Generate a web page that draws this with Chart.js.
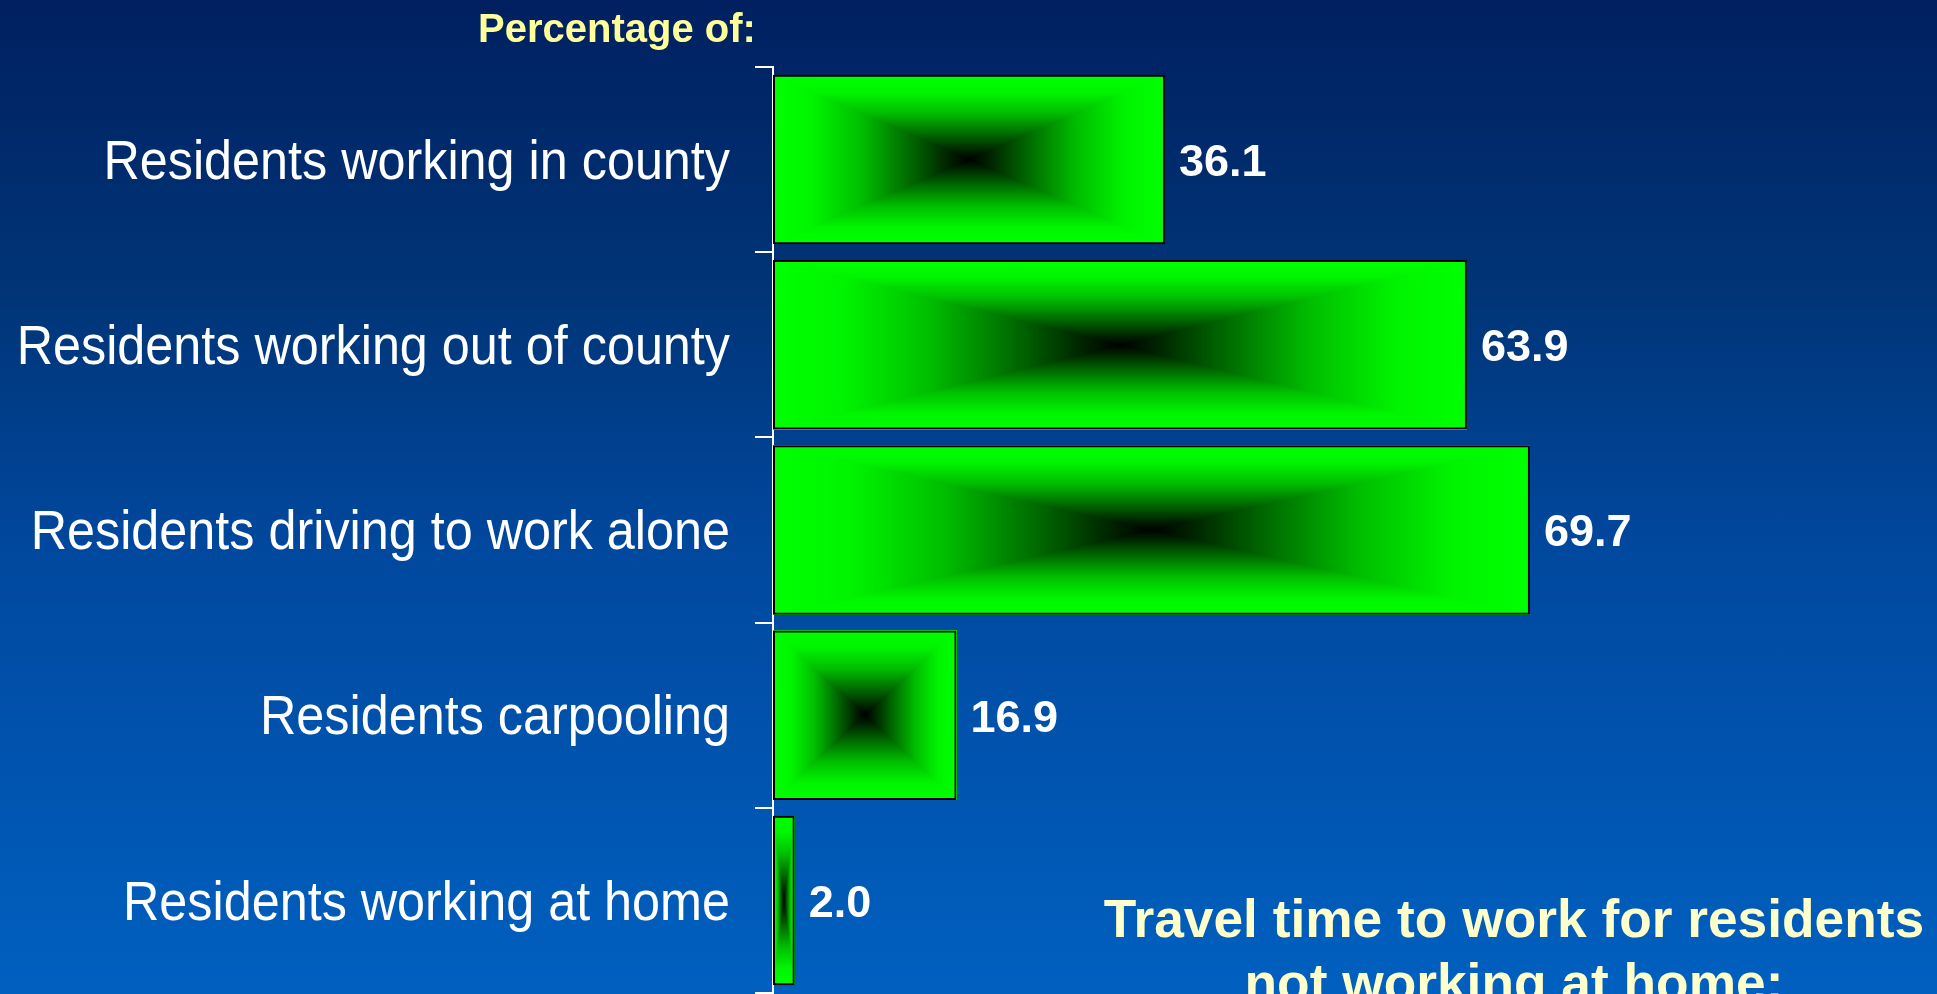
<!DOCTYPE html>
<html>
<head>
<meta charset="utf-8">
<script src="https://cdn.jsdelivr.net/npm/chart.js@4/dist/chart.umd.min.js"></script>
<style>
  html, body { margin: 0; padding: 0; width: 1937px; height: 994px; overflow: hidden; }
  #wrap {
    position: relative; width: 1937px; height: 994px;
    background: linear-gradient(to bottom, #002060 0%, #003578 30%, #00489E 55%, #0060C0 100%);
  }
  #chartBox { position: absolute; left: 0; top: 0; width: 1937px; height: 994px; }
  .pct {
    position: absolute; left: 478px; top: 2px;
    font-family: "Liberation Sans", Arial, sans-serif; font-weight: bold;
    font-size: 40px; color: #FFFF99; white-space: nowrap; line-height: 52px;
  }
  .travel {
    position: absolute; left: 1064px; width: 900px; top: 887px;
    font-family: "Liberation Sans", Arial, sans-serif; font-weight: bold;
    font-size: 53.3px; color: #FFFFCC; text-align: center; line-height: 64px; white-space: nowrap;
  }
</style>
</head>
<body>
<div id="wrap">
  <div id="chartBox"><canvas id="c"></canvas></div>
  <div class="pct">Percentage of:</div>
  <div class="travel">Travel time to work for residents<br>not working at home:</div>
</div>
<script>
const categories = [
  "Residents working in county",
  "Residents working out of county",
  "Residents driving to work alone",
  "Residents carpooling",
  "Residents working at home"
];
const percentValues = [36.1, 63.9, 69.7, 16.9, 2.0];
const valueLabels = ["36.1", "63.9", "69.7", "16.9", "2.0"];

// colour ramp: t = 0 at bar edge, 1 at bar centre
const rampStops = [[0, 255], [0.2, 245], [0.45, 190], [0.7, 105], [0.88, 40], [1, 0]];
function ramp(t) {
  for (let i = 1; i < rampStops.length; i++) {
    if (t <= rampStops[i][0]) {
      const a = rampStops[i - 1], b = rampStops[i];
      const f = (t - a[0]) / (b[0] - a[0]);
      return a[1] + (b[1] - a[1]) * f;
    }
  }
  return 0;
}

const rectGradientPlugin = {
  id: 'rectGradient',
  beforeDatasetsDraw(chart) {
    const ctx = chart.ctx;
    const meta = chart.getDatasetMeta(0);
    meta.data.forEach(el => {
      const p = el.getProps(['x', 'y', 'base', 'height'], true);
      const left = Math.round(Math.min(p.base, p.x));
      const right = Math.round(Math.max(p.base, p.x));
      const top = Math.round(p.y - p.height / 2);
      const bottom = Math.round(p.y + p.height / 2);
      const w = right - left, h = bottom - top;
      if (w <= 0 || h <= 0) return;
      const img = ctx.createImageData(w, h);
      const hw = w / 2, hh = h / 2;
      for (let j = 0; j < h; j++) {
        const dy = Math.abs(j + 0.5 - hh) / hh;
        for (let i = 0; i < w; i++) {
          const dx = Math.abs(i + 0.5 - hw) / hw;
          const d = Math.max(dx, dy);
          const g = ramp(1 - d);
          const k = (j * w + i) * 4;
          img.data[k] = 0;
          img.data[k + 1] = g;
          img.data[k + 2] = 0;
          img.data[k + 3] = 255;
        }
      }
      ctx.putImageData(img, left, top);
    });
  },
  afterDatasetsDraw(chart) {
    const ctx = chart.ctx;
    const meta = chart.getDatasetMeta(0);
    ctx.save();
    ctx.fillStyle = '#FFFFFF';
    ctx.font = 'bold 45px "Liberation Sans", Arial, sans-serif';
    ctx.textAlign = 'left';
    ctx.textBaseline = 'middle';
    meta.data.forEach((el, i) => {
      ctx.fillText(valueLabels[i], el.x + 14, el.y + 4);
    });
    ctx.restore();
  },
  afterDraw(chart) {
    // category labels, drawn at the y scale's own tick positions, horizontally condensed
    const ctx = chart.ctx;
    const ys = chart.scales.y;
    ctx.save();
    ctx.fillStyle = '#FFFFFF';
    ctx.font = '55px "Liberation Sans", Arial, sans-serif';
    ctx.textAlign = 'right';
    ctx.textBaseline = 'middle';
    const rightEdge = ys.right - 18 - 25;
    const sx = 0.915;
    ys.ticks.forEach((t, i) => {
      const y = ys.getPixelForTick(i);
      ctx.save();
      ctx.translate(rightEdge, y + 4);
      ctx.scale(sx, 1);
      ctx.fillText(ys.getLabelForValue(t.value), 0, 0);
      ctx.restore();
    });
    ctx.restore();
  }
};

new Chart(document.getElementById('c'), {
  type: 'bar',
  data: {
    labels: categories,
    datasets: [{
      data: percentValues,
      backgroundColor: 'rgba(0,0,0,0)',
      borderColor: '#000000',
      borderWidth: 2,
      borderSkipped: false,
      barPercentage: 0.915,
      categoryPercentage: 1.0
    }]
  },
  options: {
    indexAxis: 'y',
    responsive: true,
    maintainAspectRatio: false,
    animation: false,
    layout: { padding: { left: 0, top: 67, right: 78, bottom: 1 } },
    plugins: { legend: { display: false }, tooltip: { enabled: false }, title: { display: false } },
    scales: {
      x: { min: 0, max: 100, display: false },
      y: {
        afterFit(scale) { scale.width = 773; },
        grid: { display: true, drawOnChartArea: false, drawTicks: true, tickLength: 18, color: '#FFFFFF', lineWidth: 2, offset: true },
        border: { display: true, color: '#FFFFFF', width: 2 },
        ticks: { display: false }
      }
    }
  },
  plugins: [rectGradientPlugin]
});
</script>
</body>
</html>
